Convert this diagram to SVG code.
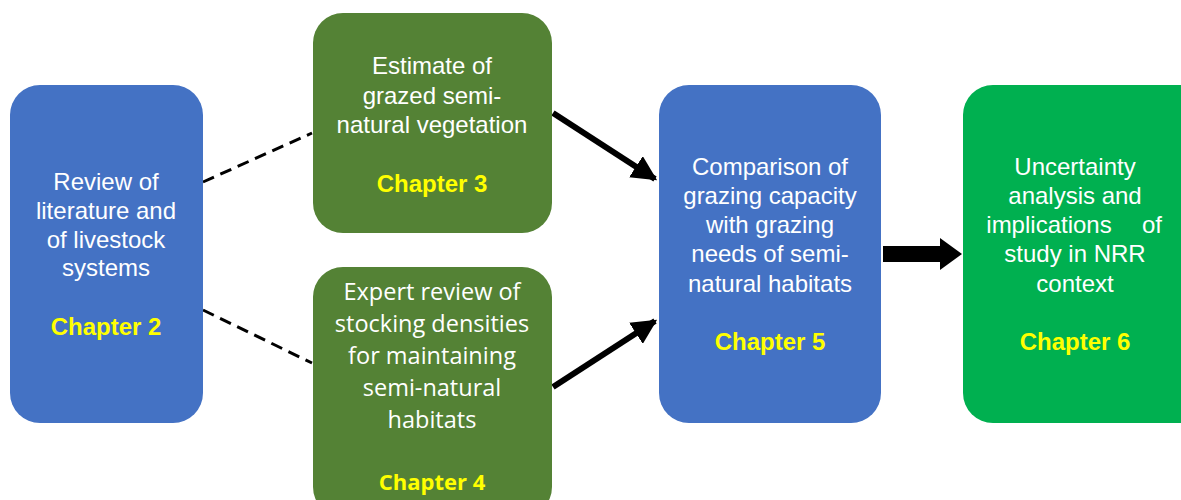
<svg xmlns="http://www.w3.org/2000/svg" width="1181" height="500" viewBox="0 0 1181 500">
<defs>
<style>
.t{font-family:"Liberation Sans",Arial,sans-serif;font-size:24px;fill:#ffffff;text-anchor:middle}
.c{font-family:"Liberation Sans",Arial,sans-serif;font-size:24px;font-weight:bold;fill:#ffff00;text-anchor:middle}
.t2{font-family:"Open Sans","Noto Sans",sans-serif;font-size:23.5px;fill:#ffffff;text-anchor:middle}
.c2{font-family:"Open Sans","Noto Sans",sans-serif;font-size:22px;font-weight:bold;fill:#ffff00;text-anchor:middle}
.dash{stroke:#000;stroke-width:3;stroke-dasharray:12 7;fill:none}
.arr{stroke:#000;stroke-width:6;fill:none}
</style>
<marker id="ah" viewBox="0 0 10 10" refX="9" refY="5" markerWidth="4.2" markerHeight="4.2" markerUnits="strokeWidth" orient="auto">
<path d="M0,0 L10,5 L0,10 Z" fill="#000"/>
</marker>
</defs>
<rect width="1181" height="500" fill="#ffffff"/>
<g id="connectors">
<line class="dash" x1="203" y1="182" x2="312" y2="133"/>
<line class="dash" x1="203" y1="310" x2="312" y2="363"/>
<line class="arr" x1="553" y1="113" x2="655" y2="179" marker-end="url(#ah)"/>
<line class="arr" x1="553" y1="387" x2="655" y2="321" marker-end="url(#ah)"/>
<path d="M883,246 L940,246 L940,238 L962,254 L940,270 L940,262 L883,262 Z" fill="#000"/>
</g>
<g id="node-ch2">
<rect x="10" y="85" width="193" height="338" rx="30" fill="#4472C4"/>
<text class="t" x="106" y="190">Review of</text>
<text class="t" x="106" y="219">literature and</text>
<text class="t" x="106" y="248">of livestock</text>
<text class="t" x="106" y="276">systems</text>
<text class="c" x="106" y="335">Chapter 2</text>
</g>
<g id="node-ch3">
<rect x="313" y="13" width="239" height="220" rx="30" fill="#548235"/>
<text class="t" x="432" y="74">Estimate of</text>
<text class="t" x="432" y="104">grazed semi-</text>
<text class="t" x="432" y="133">natural vegetation</text>
<text class="c" x="432" y="192">Chapter 3</text>
</g>
<g id="node-ch4">
<rect x="313" y="267" width="239" height="250" rx="30" fill="#548235"/>
<text class="t2" x="432" y="300">Expert review of</text>
<text class="t2" x="432" y="332">stocking densities</text>
<text class="t2" x="432" y="364">for maintaining</text>
<text class="t2" x="432" y="396">semi-natural</text>
<text class="t2" x="432" y="428">habitats</text>
<text class="c2" x="432" y="490">Chapter 4</text>
</g>
<g id="node-ch5">
<rect x="659" y="85" width="222" height="338" rx="30" fill="#4472C4"/>
<text class="t" x="770" y="175">Comparison of</text>
<text class="t" x="770" y="204">grazing capacity</text>
<text class="t" x="770" y="233">with grazing</text>
<text class="t" x="770" y="262">needs of semi-</text>
<text class="t" x="770" y="292">natural habitats</text>
<text class="c" x="770" y="350">Chapter 5</text>
</g>
<g id="node-ch6">
<rect x="963" y="85" width="250" height="338" rx="30" fill="#00B050"/>
<text class="t" x="1075" y="175">Uncertainty</text>
<text class="t" x="1075" y="204">analysis and</text>
<text class="t" x="1049" y="233">implications</text>
<text class="t" x="1152" y="233">of</text>
<text class="t" x="1075" y="262">study in NRR</text>
<text class="t" x="1075" y="292">context</text>
<text class="c" x="1075" y="350">Chapter 6</text>
</g>
</svg>
